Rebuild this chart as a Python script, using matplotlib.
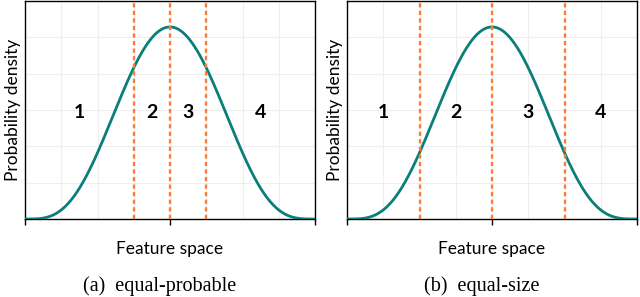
import numpy as np
import matplotlib.pyplot as plt
from math import gamma

# bell-shaped feature distribution (symmetric beta on the feature range)
shape_a = 4.7
x_range = [-4, 4]

# bin boundaries for the two discretisations
bounds_a = [-1.0, 0.0, 1.0]        # equal-probable
bounds_b = [-2.0, 0.0, 2.0]        # equal-size
labels_a_x = [-2.5, -0.5, 0.5, 2.5]
labels_b_x = [-3.0, -1.0, 1.0, 3.0]
bin_labels = ['1', '2', '3', '4']
captions = ['(a)  equal-probable', '(b)  equal-size']

teal = '#0a7f7a'
orange = '#fd7b35'

width = x_range[1] - x_range[0]
xs = np.linspace(x_range[0], x_range[1], 400)
t = (xs - x_range[0]) / width
norm = gamma(2 * shape_a) / gamma(shape_a) ** 2
pdf = norm * (t * (1 - t)) ** (shape_a - 1) / width

y_top = pdf.max() / 0.881
label_y = 0.49 * y_top

fig = plt.figure(figsize=(6.4, 2.97), dpi=100)
lefts = [25 / 640, 347 / 640]
cap_centers = [160 / 640, 482 / 640]
panels = [(bounds_a, labels_a_x), (bounds_b, labels_b_x)]

for left, cx, (bounds, lx), cap in zip(lefts, cap_centers, panels, captions):
    ax = fig.add_axes([left, 78 / 297, 290 / 640, 218 / 297])
    ax.plot(xs, pdf, color=teal, lw=2.0, zorder=3)
    for b in bounds:
        ax.axvline(b, color=orange, lw=1.7, ls=(0, (1.8, 1.4)), zorder=4)
    for xv, s in zip(lx, bin_labels):
        ax.text(xv, label_y, s, ha='center', va='center', fontsize=14,
                fontweight='bold', family='Lato')
    ax.set_xlim(x_range)
    ax.set_ylim(0, y_top)
    ax.set_xticks([-4, 0, 4])
    ax.set_xticks(np.arange(-3, 4), minor=True)
    ax.set_yticks(np.linspace(0, y_top, 7)[1:-1])
    ax.tick_params(axis='x', which='major', length=4, width=1, labelbottom=False)
    ax.tick_params(axis='x', which='minor', length=0)
    ax.tick_params(axis='y', length=0, labelleft=False)
    ax.grid(True, which='both', color='#eeeeee', lw=0.8)
    ax.set_axisbelow(True)
    for sp in ax.spines.values():
        sp.set_linewidth(1.0)
    ax.set_ylabel('Probability density', fontsize=12.5, family='Lato', labelpad=3)
    ax.set_xlabel('Feature space', fontsize=12.5, family='Lato', labelpad=12)
    fig.text(cx, 11 / 297, cap, ha='center', va='center',
             fontsize=14.5, family='Liberation Serif')

fig.savefig('out.png', dpi=100)
